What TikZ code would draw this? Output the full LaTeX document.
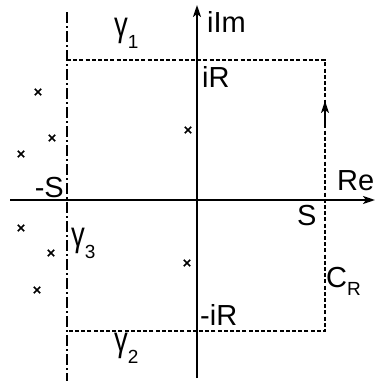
\documentclass[tikz,border=0pt]{standalone}
\usepackage{fontspec}
\setmainfont{Liberation Sans}
\usetikzlibrary{arrows.meta,calc}
\newcommand{\lbsub}[2][-12pt]{\raisebox{#1}{\fontsize{19}{19}\selectfont #2}}
\newcommand{\lbgam}{\scalebox{0.95}[1.2]{γ}}
\tikzset{
  axis/.style={line width=2pt,-{Stealth[length=12pt,width=8pt,inset=3pt]}},
  contour/.style={line width=1.5pt,dash pattern=on 4pt off 2.2pt},
  cutline/.style={line width=2pt,dash pattern=on 11pt off 3pt on 2pt off 3pt},
  lbl/.style={inner sep=0pt,font=\fontsize{29}{29}\selectfont},
  pole/.style={line width=1.6pt},
}
\begin{document}
\begin{tikzpicture}[x=1pt,y=-1pt]
\useasboundingbox (0,0) rectangle (375,381);
% axes
\coordinate (xl) at (10,200);
\coordinate (xr) at (375,200);
\coordinate (yb) at (197,378);
\coordinate (yt) at (197,5);
\draw[axis] (xl) -- (xr);
\draw[axis] (yb) -- (yt);
% cut line
\coordinate (ct) at (67,12);
\coordinate (cb) at (67,381);
\draw[cutline] (ct) -- (cb);
% contour
\coordinate (tl) at (67,60);
\coordinate (tr) at (325,60);
\coordinate (br) at (325,331);
\coordinate (bl) at (67,331);
\coordinate (am) at (325,101);
\coordinate (ab) at (325,126);
\draw[contour] (tl) -- (tr) -- (br) -- (bl);
\draw[line width=1.5pt,-{Stealth[length=12pt,width=8pt,inset=3pt]}] (ab) -- (am);
% poles
\foreach \n/\px/\py in {p1/38/92,p2/52/138,p3/21/154,p4/188/130,p5/21/228,p6/51/253,p7/37/290,p8/187/263}{
  \coordinate (\n) at (\px,\py);
  \draw[pole] ($(\n)+(-3.2,-3.2)$) -- ($(\n)+(3.2,3.2)$) ($(\n)+(-3.2,3.2)$) -- ($(\n)+(3.2,-3.2)$);
}
% labels
\node[lbl,anchor=base west] (g1) at (114,36) {\lbgam\lbsub{1}};
\node[lbl,anchor=base west] (g2) at (114,351) {\lbgam\lbsub{2}};
\node[lbl,anchor=base west] (g3) at (71,246) {\lbgam\lbsub{3}};
\node[lbl,anchor=base east] (ms) at (64,197) {-S};
\node[lbl,anchor=base west] (s) at (297,225) {S};
\node[lbl,anchor=base west] (re) at (337,190) {Re};
\node[lbl,anchor=base west] (iim) at (207,32) {iIm};
\node[lbl,anchor=base west] (ir) at (202,87) {iR};
\node[lbl,anchor=base west] (mir) at (200,325) {-iR};
\node[lbl,anchor=base west] (cr) at (326,287) {C\lbsub[-8pt]{R}};
\end{tikzpicture}
\end{document}
